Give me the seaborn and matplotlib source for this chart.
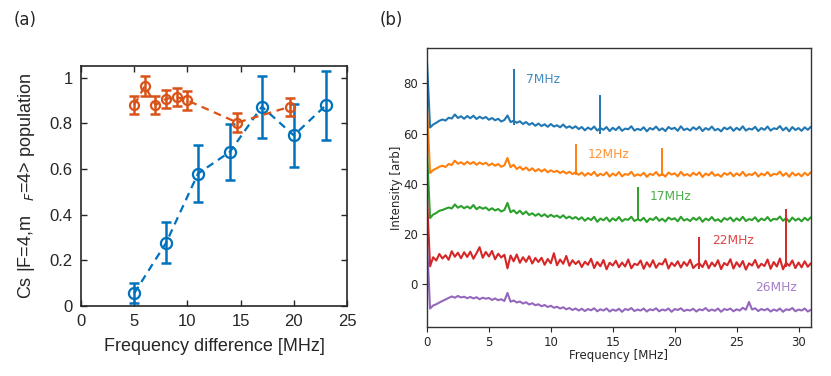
import numpy as np
import pandas as pd
import seaborn as sns
import matplotlib.pyplot as plt

# ---- panel (a) data ----
blue_x = [5, 8, 11, 14, 17, 20, 23]
blue_y = [0.056, 0.277, 0.580, 0.675, 0.873, 0.747, 0.878]
blue_err = [0.044, 0.090, 0.124, 0.123, 0.136, 0.139, 0.150]

orange_x = [5, 6, 7, 8, 9, 10, 14.7, 19.6]
orange_y = [0.880, 0.963, 0.880, 0.907, 0.915, 0.900, 0.803, 0.872]
orange_err = [0.040, 0.043, 0.040, 0.040, 0.040, 0.040, 0.041, 0.040]

# ---- panel (b) data ----
freq = np.arange(0, 31.01, 0.25)
trace_names = ['7MHz', '12MHz', '17MHz', '22MHz', '26MHz']

trace_7 = [89.0,
    62.4, 63.6, 64.3, 65.1, 65.6, 65.2, 66.3, 66.0, 67.6, 66.2, 66.9, 65.9,
    67.0, 66.1, 67.1, 65.8, 66.7, 66.0, 66.6, 65.5, 66.2, 65.3, 65.9, 64.8,
    65.4, 67.2, 64.6, 65.1, 64.3, 64.9, 63.8, 64.6, 63.5, 64.2, 63.1, 64.0,
    63.0, 63.7, 62.7, 63.8, 62.8, 63.3, 62.5, 63.6, 62.3, 62.9, 62.1, 62.9,
    61.8, 62.6, 61.3, 62.4, 61.6, 62.8, 61.2, 62.2, 61.5, 62.6, 61.0, 62.3,
    61.4, 62.7, 61.1, 62.0, 61.7, 62.9, 61.2, 61.9, 61.4, 62.5, 60.9, 62.2,
    61.6, 62.8, 61.3, 62.1, 61.0, 62.6, 61.8, 62.3, 61.1, 62.9, 61.4, 62.0,
    61.2, 62.5, 61.6, 62.7, 61.0, 62.2, 61.5, 62.8, 61.3, 61.9, 60.9, 62.4,
    61.7, 62.6, 61.1, 62.3, 61.4, 62.9, 61.2, 62.0, 61.6, 62.7, 61.0, 62.2,
    61.5, 62.8, 61.2, 62.1, 61.8, 63.0, 61.3, 62.4, 60.9, 62.6, 61.4, 62.2,
    61.1, 62.5, 61.5, 62.7]
trace_12 = [71.0,
    44.3, 45.5, 46.1, 46.8, 47.2, 46.7, 47.9, 47.5, 49.2, 48.0, 48.6, 47.7,
    48.8, 47.9, 48.7, 47.6, 48.5, 47.8, 48.4, 47.3, 48.1, 47.2, 47.9, 46.8,
    47.4, 50.3, 46.6, 47.6, 45.9, 46.8, 45.6, 46.5, 45.3, 46.2, 45.0, 45.9,
    44.9, 45.8, 44.6, 45.4, 44.7, 45.2, 44.3, 45.0, 44.1, 44.8, 43.9, 44.6,
    43.6, 44.5, 43.2, 44.3, 43.5, 44.8, 43.1, 44.0, 43.4, 44.6, 42.9, 44.1,
    43.3, 44.7, 43.0, 43.9, 43.6, 44.8, 43.1, 43.8, 43.3, 44.4, 42.8, 44.0,
    43.5, 44.7, 43.2, 44.0, 42.9, 44.5, 43.7, 44.2, 43.0, 44.8, 43.3, 43.9,
    43.1, 44.4, 43.5, 44.6, 42.7, 44.1, 43.4, 44.7, 43.2, 43.8, 42.8, 44.3,
    43.6, 44.5, 43.0, 44.2, 43.3, 44.8, 43.1, 43.9, 43.5, 44.6, 42.9, 44.1,
    43.4, 44.7, 43.1, 44.0, 43.7, 44.9, 43.2, 44.3, 42.8, 44.5, 43.3, 44.1,
    43.0, 44.4, 43.4, 44.6]
trace_17 = [53.0,
    26.4, 27.8, 28.4, 29.3, 29.6, 30.1, 30.6, 30.2, 31.8, 30.5, 31.2, 30.3,
    31.0, 30.2, 31.6, 29.9, 30.8, 30.1, 30.6, 29.5, 30.3, 29.4, 30.0, 29.0,
    29.6, 32.4, 28.7, 29.5, 28.2, 29.3, 27.9, 29.0, 27.6, 28.3, 27.3, 28.1,
    27.1, 27.9, 26.8, 27.7, 26.9, 27.4, 26.5, 27.5, 26.3, 27.0, 26.1, 26.8,
    25.8, 26.7, 25.3, 26.4, 25.6, 26.9, 24.9, 26.2, 25.5, 26.6, 25.0, 26.3,
    25.4, 26.8, 25.1, 26.0, 25.7, 26.9, 25.2, 25.9, 25.4, 26.5, 24.8, 26.2,
    25.6, 26.8, 25.3, 26.1, 25.0, 26.6, 25.8, 26.3, 25.1, 26.9, 25.4, 26.0,
    25.2, 26.5, 25.6, 26.7, 24.9, 26.2, 25.5, 26.8, 25.3, 25.9, 24.9, 26.4,
    25.7, 26.6, 25.1, 26.3, 25.4, 26.9, 25.2, 26.0, 25.6, 26.7, 25.0, 26.2,
    25.5, 26.8, 25.2, 26.1, 25.8, 27.0, 25.3, 26.4, 24.9, 26.6, 25.4, 26.2,
    25.1, 26.5, 25.5, 26.7]
trace_22 = [35.0,
    7.2, 10.8, 9.5, 12.1, 10.3, 11.6, 9.8, 13.2, 11.0, 12.6, 10.4, 12.8,
    10.9, 13.0, 10.2, 12.4, 14.8, 10.6, 12.9, 11.1, 13.3, 10.0, 12.2, 10.7,
    11.8, 6.4, 11.5, 9.2, 11.9, 8.6, 10.8, 9.0, 11.2, 8.3, 10.5, 8.9,
    10.6, 7.8, 10.1, 8.4, 12.4, 7.6, 9.9, 8.2, 11.3, 7.4, 9.6, 8.1,
    9.3, 6.9, 9.0, 7.8, 10.2, 6.5, 8.9, 7.2, 9.7, 6.0, 8.6, 7.5,
    9.4, 6.8, 8.7, 7.1, 9.9, 6.4, 8.2, 7.7, 9.5, 6.2, 8.8, 7.0,
    9.6, 6.6, 8.4, 7.9, 10.1, 6.3, 8.6, 7.3, 9.2, 6.7, 8.9, 7.4,
    9.8, 6.5, 7.8, 8.3, 6.9, 9.4, 6.4, 8.7, 7.2, 9.6, 6.1, 8.5,
    7.6, 10.0, 6.3, 8.8, 7.0, 9.3, 5.9, 8.4, 7.5, 9.7, 6.6, 8.2,
    7.3, 9.9, 6.2, 8.9, 7.1, 10.3, 6.0, 8.6, 7.4, 9.5, 6.5, 8.7,
    6.8, 9.2, 7.0, 8.4]
trace_26 = [17.0,
    -9.6, -8.4, -7.9, -7.2, -6.6, -6.0, -5.4, -4.8, -5.3, -4.6, -5.2, -4.9,
    -5.5, -5.0, -5.6, -5.1, -5.9, -5.3, -5.7, -5.4, -6.2, -5.6, -6.3, -5.9,
    -6.6, -3.4, -6.9, -6.4, -7.2, -6.8, -7.6, -7.1, -8.0, -7.5, -8.3, -7.9,
    -8.7, -8.2, -9.0, -8.5, -9.3, -8.9, -9.6, -9.1, -9.9, -9.4, -10.2, -9.6,
    -10.4, -9.7, -10.6, -9.8, -10.3, -9.5, -10.7, -9.9, -10.4, -9.6, -10.8, -10.0,
    -10.5, -9.7, -10.9, -9.8, -10.2, -9.4, -10.6, -10.0, -10.4, -9.6, -10.8, -9.9,
    -10.3, -9.5, -10.7, -10.0, -10.4, -9.6, -10.9, -9.8, -10.2, -9.5, -10.6, -10.1,
    -10.4, -9.7, -10.8, -9.9, -10.3, -9.4, -10.6, -10.0, -10.5, -9.6, -10.9, -9.8,
    -10.2, -9.6, -10.7, -9.9, -10.4, -9.3, -10.1, -7.0, -10.0, -9.5, -10.6, -9.8,
    -10.3, -9.7, -10.8, -10.0, -10.5, -9.6, -10.9, -9.9, -10.2, -9.4, -10.7, -10.0,
    -10.4, -9.6, -10.8, -10.1]

# narrow spikes at the drive frequency and its harmonic
spike_x = [[7.0, 14.0], [12.0, 19.0], [17.0], [22.0, 29.0], []]
spike_lo = [[63.5, 60.0], [43.5, 43.0], [25.5], [6.0, 7.0], []]
spike_hi = [[85.8, 75.2], [55.8, 54.3], [38.8], [19.0, 29.8], []]

label_x = [8.0, 13.0, 18.0, 23.0, 26.5]
label_y = [81.6, 51.7, 34.8, 17.6, -1.2]

sns.set_theme(style="ticks")
plt.rcParams['font.family'] = ['DejaVu Sans']

fig = plt.figure(figsize=(8.31, 3.76), dpi=100)

# ================= (a) =================
ax1 = fig.add_axes([0.0975, 0.186, 0.320, 0.638])
mblue = '#0072BD'
morange = '#D95319'
mfont = 'Liberation Sans'

df_b = pd.DataFrame({'x': blue_x, 'y': blue_y})
df_o = pd.DataFrame({'x': orange_x, 'y': orange_y})

ax1.errorbar(blue_x, blue_y, yerr=blue_err, fmt='none', ecolor=mblue,
             elinewidth=1.8, capsize=3.5, capthick=1.8)
sns.lineplot(data=df_b, x='x', y='y', ax=ax1, color=mblue, lw=1.6,
             linestyle=(0, (3.5, 2.5)), marker='o', markersize=8,
             markerfacecolor='none', markeredgecolor=mblue,
             markeredgewidth=1.6, sort=False)
ax1.errorbar(orange_x, orange_y, yerr=orange_err, fmt='none', ecolor=morange,
             elinewidth=1.8, capsize=3.5, capthick=1.8)
sns.lineplot(data=df_o, x='x', y='y', ax=ax1, color=morange, lw=1.6,
             linestyle=(0, (3.5, 2.5)), marker='o', markersize=6.5,
             markerfacecolor='none', markeredgecolor=morange,
             markeredgewidth=1.6, sort=False)

ax1.set_xlim(0, 25)
ax1.set_ylim(0, 1.05)
ax1.set_xticks([0, 5, 10, 15, 20, 25])
ax1.set_yticks([0, 0.2, 0.4, 0.6, 0.8, 1])
ax1.set_yticklabels(['0', '0.2', '0.4', '0.6', '0.8', '1'])
ax1.tick_params(direction='in', top=True, right=True, length=4, width=1,
                labelsize=12, pad=6, colors='#262626')
for lab in ax1.get_xticklabels() + ax1.get_yticklabels():
    lab.set_family(mfont)
for sp in ax1.spines.values():
    sp.set_visible(True)
    sp.set_color('#262626')
    sp.set_linewidth(1.2)
ax1.set_xlabel('Frequency difference [MHz]', fontsize=13, family=mfont,
               color='#262626', labelpad=6)
ax1.set_ylabel('Cs |F=4,m   $_F$=4> population', fontsize=13, family=mfont,
               color='#262626', labelpad=9)

# ================= (b) =================
ax2 = fig.add_axes([0.5138, 0.130, 0.462, 0.742])
traces = [trace_7, trace_12, trace_17, trace_22, trace_26]
df_s = pd.concat([pd.DataFrame({'freq': freq, 'val': t, 'trace': n})
                  for t, n in zip(traces, trace_names)])
colors = sns.color_palette('tab10', 5)
sns.lineplot(data=df_s, x='freq', y='val', hue='trace', hue_order=trace_names,
             palette=colors, estimator=None, lw=1.5, legend=False, ax=ax2)
for i in range(5):
    if spike_x[i]:
        ax2.vlines(spike_x[i], spike_lo[i], spike_hi[i], color=colors[i], lw=1.4)
    ax2.text(label_x[i], label_y[i], trace_names[i], color=colors[i], alpha=0.85,
             fontsize=8.8, va='center', ha='left')

ax2.set_xlim(0, 31)
ax2.set_ylim(-17, 94)
ax2.set_xticks([0, 5, 10, 15, 20, 25, 30])
ax2.set_yticks([0, 20, 40, 60, 80])
ax2.tick_params(labelsize=8.5, length=3.5, width=0.8, pad=3, colors='#262626')
for sp in ax2.spines.values():
    sp.set_visible(True)
    sp.set_color('#333333')
    sp.set_linewidth(1.0)
ax2.set_xlabel('Frequency [MHz]', fontsize=8.5, labelpad=0, color='#262626')
ax2.set_ylabel('Intensity [arb]', fontsize=8.5, labelpad=0, color='#262626')

fig.text(0.016, 0.947, '(a)', fontsize=12, va='center', ha='left')
fig.text(0.457, 0.947, '(b)', fontsize=12, va='center', ha='left')

fig.savefig('out.png', dpi=100)
